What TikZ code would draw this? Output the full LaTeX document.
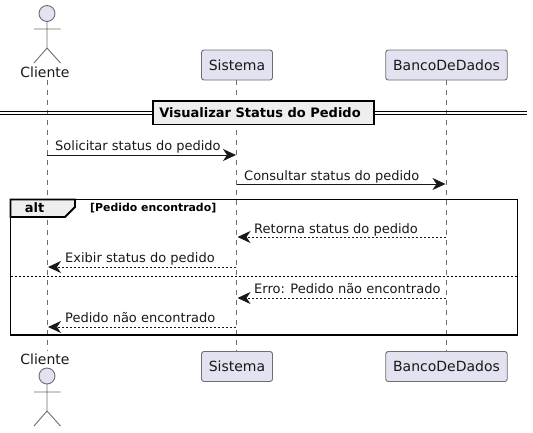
\documentclass[tikz,border=0pt]{standalone}
\usepackage{fontspec}
\setmainfont{DejaVu Sans}
\usetikzlibrary{arrows.meta}
\definecolor{partfill}{HTML}{E2E2F0}
\definecolor{partline}{HTML}{6E6E72}
\definecolor{ink}{HTML}{181818}
\definecolor{greyfill}{HTML}{EEEEEE}
\tikzset{
  part/.style={draw=partline,fill=partfill,rounded corners=2.5pt,line width=0.9pt,minimum height=30pt,inner sep=0pt,font=\fontsize{14}{16}\selectfont,text=ink},
  actorname/.style={inner sep=0pt,font=\fontsize{14}{16}\selectfont,text=ink},
  lifeline/.style={draw=partline,line width=0.8pt,dash pattern=on 5pt off 5pt},
  actorbody/.style={draw=partline,line width=0.9pt},
  msg/.style={ink,line width=1pt,-{Stealth[length=13pt,width=12pt,inset=4pt]}},
  reply/.style={msg,dash pattern=on 2pt off 2pt},
  msgtext/.style={inner sep=0pt,anchor=base west,font=\fontsize{13}{15}\selectfont,text=ink},
  frameline/.style={draw=black,line width=1.8pt},
}
\begin{document}
\begin{tikzpicture}[x=1pt,y=-1pt]
\useasboundingbox (0,0) rectangle (533,432);
% participants
\node[part,minimum width=71pt] (sysT) at (237,65) {Sistema};
\node[part,minimum width=121.5pt] (dbT) at (446.5,65) {BancoDeDados};
\node[part,minimum width=71pt] (sysB) at (237,366.5) {Sistema};
\node[part,minimum width=121.5pt] (dbB) at (446.5,366.5) {BancoDeDados};
\node[actorname] (cliT) at (45,72.5) {Cliente};
\node[actorname] (cliB) at (45,359) {Cliente};
\coordinate (cliTl) at (47,80);
\coordinate (cliBl) at (47,351);
% lifelines
\draw[lifeline] (cliTl) -- (cliBl);
\draw[lifeline] (sysT.south -| 236.5,0) -- (sysB.north -| 236.5,0);
\draw[lifeline] (dbT.south -| 446,0) -- (dbB.north -| 446,0);
% actors
\draw[actorbody,fill=partfill] (47,13.5) circle (8);
\draw[actorbody] (47,21.5) -- (47,48) (34,29) -- (60.5,29) (34,63) -- (47,48) -- (60.5,63);
\draw[actorbody,fill=partfill] (47,376) circle (8);
\draw[actorbody] (47,384) -- (47,411) (34,392) -- (60.5,392) (34,426) -- (47,411) -- (60.5,426);
% divider
\draw[black,line width=1pt] (0,111.3) -- (527,111.3) (0,114.5) -- (527,114.5);
\node[draw=black,fill=greyfill,line width=1.8pt,minimum width=221pt,minimum height=23.5pt,inner sep=0pt] (divider) at (263.5,112.75) {};
\node[inner sep=0pt,font=\fontsize{13}{15}\selectfont\bfseries] (divtext) at (260,112.75) {Visualizar Status do Pedido};
% messages
\coordinate (c1) at (47,155); \coordinate (s1) at (236,155);
\coordinate (s2) at (236.5,184); \coordinate (d2) at (445.5,184);
\coordinate (d3) at (446,237); \coordinate (s3) at (237.5,237);
\coordinate (s4) at (236,267); \coordinate (c4) at (48,267);
\coordinate (d5) at (446,298); \coordinate (s5) at (237.5,298);
\coordinate (s6) at (236,327); \coordinate (c6) at (48,327);
\draw[msg] (c1) -- (s1);
\draw[msg] (s2) -- (d2);
\draw[reply] (d3) -- (s3);
\draw[reply] (s4) -- (c4);
\draw[reply] (d5) -- (s5);
\draw[reply] (s6) -- (c6);
\node[msgtext] (t1) at (55,150) {Solicitar status do pedido};
\node[msgtext] (t2) at (244,180) {Consultar status do pedido};
\node[msgtext] (t3) at (254,233) {Retorna status do pedido};
\node[msgtext] (t4) at (65,262) {Exibir status do pedido};
\node[msgtext] (t5) at (254,293) {Erro: Pedido não encontrado};
\node[msgtext] (t6) at (65,322) {Pedido não encontrado};
% alt frame
\draw[frameline] (10.5,199.5) rectangle (517.5,335);
\draw[frameline,fill=greyfill] (10.5,199.5) -- (75,199.5) -- (75,207) -- (65,217) -- (10.5,217) -- cycle;
\node[inner sep=0pt,font=\fontsize{13}{15}\selectfont\bfseries] (alt) at (34.5,208) {alt};
\node[inner sep=0pt,anchor=west,font=\fontsize{10.9}{12}\selectfont\bfseries] (guard) at (90,208) {[Pedido encontrado]};
\draw[black,line width=0.9pt,dash pattern=on 2pt off 2pt] (10.5,276) -- (517.5,276);
\end{tikzpicture}
\end{document}
